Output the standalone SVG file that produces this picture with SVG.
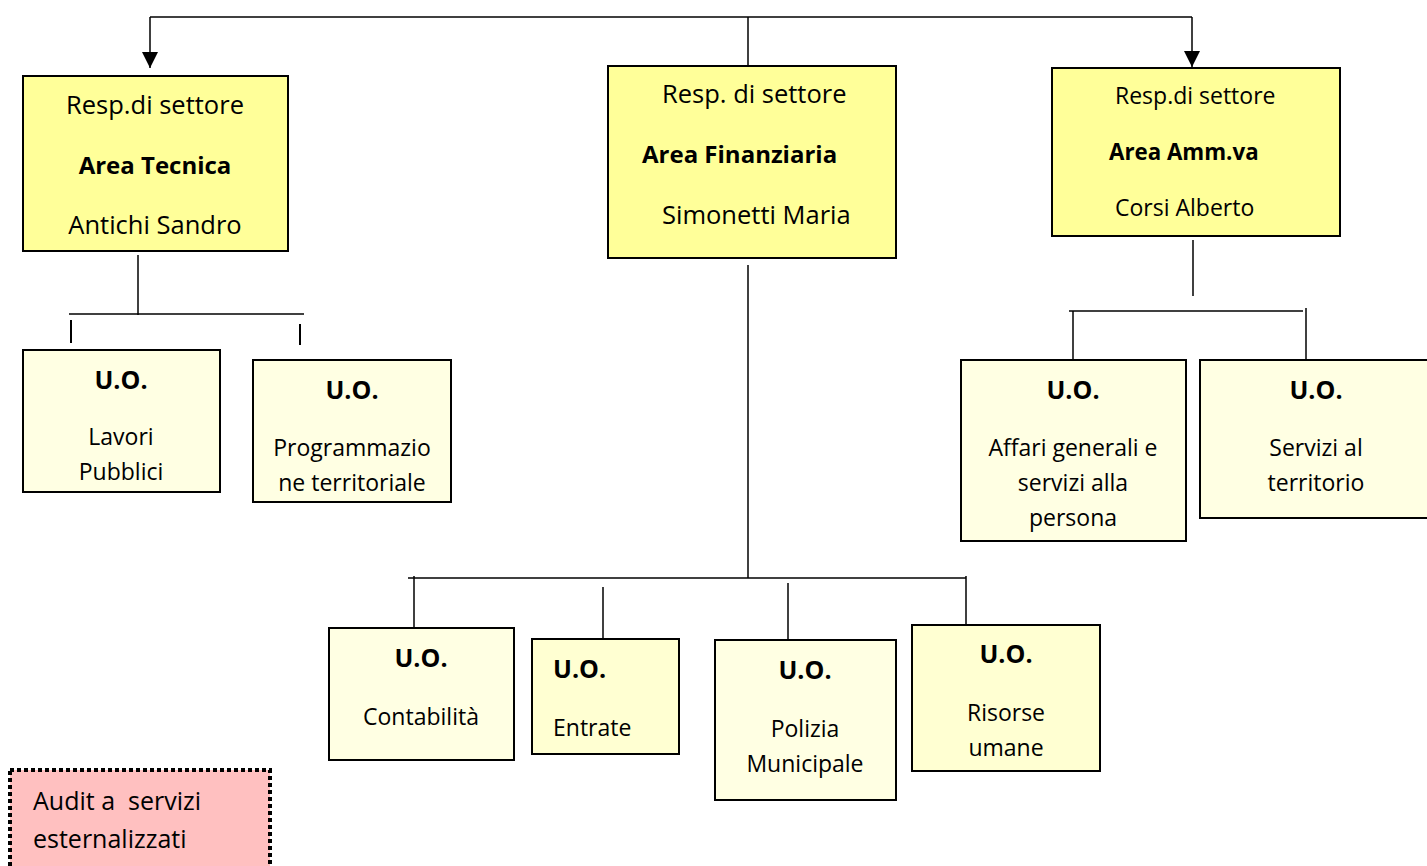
<svg xmlns="http://www.w3.org/2000/svg" width="1427" height="866" viewBox="0 0 1427 866">
<style>
text{font-family:"Open Sans","Liberation Sans",sans-serif;fill:#000;white-space:pre}
.head{fill:#FFFF99;stroke:#000;stroke-width:2}
.uo{fill:#FFFFE3;stroke:#000;stroke-width:2}
.uo2{fill:#FFFFD2;stroke:#000;stroke-width:2}
.c{text-anchor:middle}
.b{font-weight:bold}
.hr{font-size:25.5px}
.hb{font-size:24px;font-weight:bold}
.ar{font-size:23px}
.ab{font-size:22.3px;font-weight:bold}
.ur{font-size:23px}
.ub{font-size:25px;font-weight:bold}
.l{stroke:#000;stroke-width:1.5;fill:none}
</style>
<defs>
<marker id="arr" viewBox="0 0 10 10" refX="10" refY="5" markerWidth="16" markerHeight="16" markerUnits="userSpaceOnUse" orient="auto">
<path d="M0,0 L10,5 L0,10 Z" fill="#000"/>
</marker>
</defs>
<rect width="1427" height="866" fill="#fff"/>
<g id="connectors">
<path class="l" d="M150,17 H1192"/>
<path class="l" d="M150,17 V68" marker-end="url(#arr)"/>
<path class="l" d="M1192,17 V67" marker-end="url(#arr)"/>
<path class="l" d="M748,17 V66"/>
<path class="l" d="M138,255 V315"/>
<path class="l" d="M69,314 H304"/>
<path class="l" style="stroke-width:2" d="M71,320 V343"/>
<path class="l" style="stroke-width:2" d="M300,324 V345"/>
<path class="l" style="stroke-width:2" d="M24,360 V380"/>
<path class="l" d="M748,265 V578"/>
<path class="l" d="M408,578 H966"/>
<path class="l" d="M414,576 V628"/>
<path class="l" d="M603,587 V639"/>
<path class="l" d="M788,583 V640"/>
<path class="l" d="M966,576 V625"/>
<path class="l" d="M1193,240 V296"/>
<path class="l" d="M1069,311 H1303"/>
<path class="l" d="M1073,311 V361"/>
<path class="l" d="M1306,308 V359"/>
</g>
<g id="area-tecnica">
<rect class="head" x="23" y="76" width="265" height="175"/>
<text class="c hr" x="155" y="114">Resp.di settore</text>
<text class="c hb" x="155" y="174">Area Tecnica</text>
<text class="c hr" x="155" y="234">Antichi Sandro</text>
</g>
<g id="area-finanziaria">
<rect class="head" x="608" y="66" width="288" height="192"/>
<text class="hr" x="662" y="103">Resp. di settore</text>
<text class="hb" x="642" y="163">Area Finanziaria</text>
<text class="hr" x="662" y="224">Simonetti Maria</text>
</g>
<g id="area-amm">
<rect class="head" x="1052" y="68" width="288" height="168"/>
<text class="ar" x="1115" y="104">Resp.di settore</text>
<text class="ab" x="1109" y="160">Area Amm.va</text>
<text class="ar" x="1115" y="216">Corsi Alberto</text>
</g>
<g id="uo-lavori">
<rect class="uo" x="23" y="350" width="197" height="142"/>
<text class="c ub" x="121" y="389">U.O.</text>
<text class="c ur" x="121" y="445">Lavori</text>
<text class="c ur" x="121" y="480">Pubblici</text>
</g>
<g id="uo-programmazione">
<rect class="uo" x="253" y="360" width="198" height="142"/>
<text class="c ub" x="352" y="399">U.O.</text>
<text class="c ur" x="352" y="456">Programmazio</text>
<text class="c ur" x="352" y="491">ne territoriale</text>
</g>
<g id="uo-affari">
<rect class="uo" x="961" y="360" width="225" height="181"/>
<text class="c ub" x="1073" y="399">U.O.</text>
<text class="c ur" x="1073" y="456">Affari generali e</text>
<text class="c ur" x="1073" y="491">servizi alla</text>
<text class="c ur" x="1073" y="526">persona</text>
</g>
<g id="uo-servizi">
<rect class="uo" x="1200" y="360" width="240" height="158"/>
<text class="c ub" x="1316" y="399">U.O.</text>
<text class="c ur" x="1316" y="456">Servizi al</text>
<text class="c ur" x="1316" y="491">territorio</text>
</g>
<g id="uo-contabilita">
<rect class="uo" x="329" y="628" width="185" height="132"/>
<text class="c ub" x="421" y="667">U.O.</text>
<text class="c ur" x="421" y="725">Contabilità</text>
</g>
<g id="uo-entrate">
<rect class="uo2" x="532" y="639" width="147" height="115"/>
<text class="ub" x="553" y="678">U.O.</text>
<text class="ur" x="553" y="736">Entrate</text>
</g>
<g id="uo-polizia">
<rect class="uo" x="715" y="640" width="181" height="160"/>
<text class="c ub" x="805" y="679">U.O.</text>
<text class="c ur" x="805" y="737">Polizia</text>
<text class="c ur" x="805" y="772">Municipale</text>
</g>
<g id="uo-risorse">
<rect class="uo2" x="912" y="625" width="188" height="146"/>
<text class="c ub" x="1006" y="663">U.O.</text>
<text class="c ur" x="1006" y="721">Risorse</text>
<text class="c ur" x="1006" y="756">umane</text>
</g>
<g id="audit">
<rect x="10" y="770" width="260" height="110" fill="#FFC0C0" stroke="#000" stroke-width="4" stroke-dasharray="4,3"/>
<text x="33" y="810" font-size="25">Audit a  servizi</text>
<text x="33" y="848" font-size="25">esternalizzati</text>
</g>
</svg>
